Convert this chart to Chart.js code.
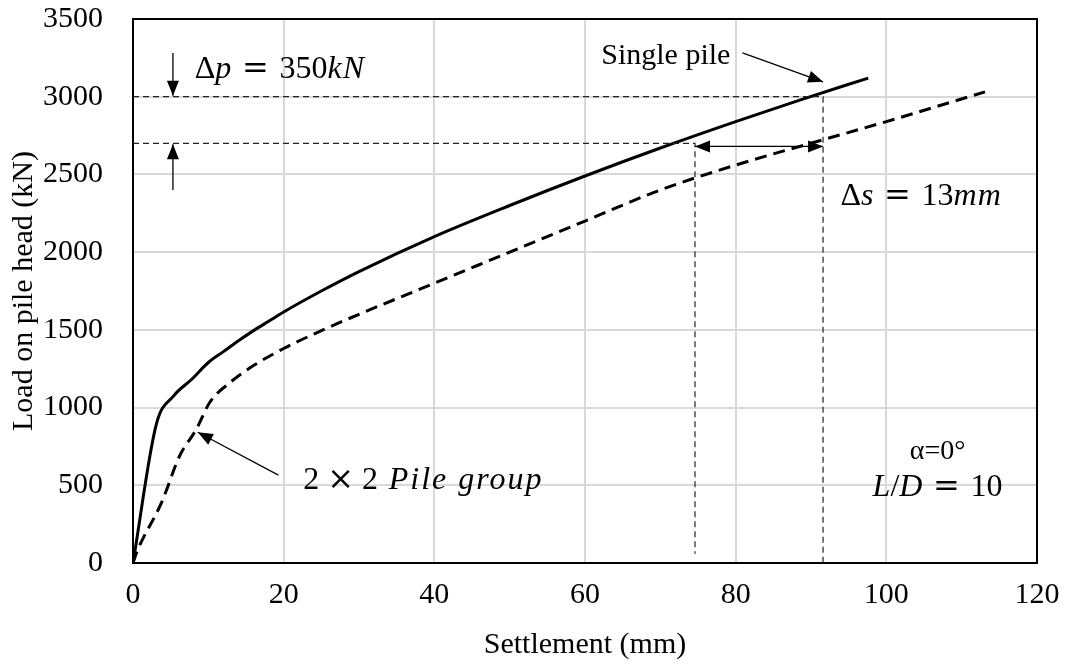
<!DOCTYPE html>
<html>
<head>
<meta charset="utf-8">
<title>Load-settlement</title>
<script src="https://cdn.jsdelivr.net/npm/chart.js@4/dist/chart.umd.min.js"></script>
<style>
    html, body { margin: 0; padding: 0; background: #fff; }
    #wrap { width: 1070px; height: 666px; }
</style>
</head>
<body>
<div id="wrap"><canvas id="loadChart" width="1070" height="666"></canvas></div>
<script>
// ===== DATA =====
const xTicks = [0, 20, 40, 60, 80, 100, 120];
const yTicks = [0, 500, 1000, 1500, 2000, 2500, 3000, 3500];

// single pile (solid)
const singleSettlement = [0, 3.1, 5.4, 7.8, 10, 12, 14, 16, 18, 20, 25, 30, 40, 50, 60, 70, 80, 88.6, 97.6];
const singleLoad = [0, 893, 1075, 1182, 1290, 1360, 1430, 1495, 1555, 1615, 1750, 1875, 2100, 2300, 2490, 2670, 2840, 2980, 3120];

// 2x2 pile group (dashed)
const groupSettlement = [0, 0.5, 3.8, 6.2, 8.4, 10.2, 12.9, 16, 20, 25, 30, 40, 50, 60, 70, 80, 91.6, 100, 113.1];
const groupLoad = [0, 70, 390, 690, 860, 1034, 1162, 1270, 1380, 1495, 1600, 1800, 2000, 2200, 2400, 2560, 2723, 2840, 3031];

// reference loads / settlements for the delta marks
const refLoads = [2700, 3000];
const refSettlements = [74.6, 91.6];

const SERIF = '"Liberation Serif", "Times New Roman", serif';
const WIDE = '"DejaVu Serif", serif';
const SP = '\u2004';

function toPoints(xs, ys) {
    return xs.map((x, i) => ({ x: x, y: ys[i] }));
}

// Guide lines: horizontal at each reference load, then down to the axis
function guideLine(load, settlement, bottom) {
    return {
        data: [{ x: 0, y: load }, { x: settlement, y: load }, { x: settlement, y: bottom }],
        borderColor: '#222',
        borderWidth: 1.2,
        borderDash: [6, 4],
        pointRadius: 0,
        showLine: true,
        tension: 0
    };
}

// ===== ANNOTATION PLUGIN =====
function arrowHead(ctx, x1, y1, x2, y2, len, half) {
    const a = Math.atan2(y2 - y1, x2 - x1);
    ctx.beginPath();
    ctx.moveTo(x2, y2);
    ctx.lineTo(x2 - len * Math.cos(a) + half * Math.sin(a), y2 - len * Math.sin(a) - half * Math.cos(a));
    ctx.lineTo(x2 - len * Math.cos(a) - half * Math.sin(a), y2 - len * Math.sin(a) + half * Math.cos(a));
    ctx.closePath();
    ctx.fill();
}

function arrow(ctx, x1, y1, x2, y2, both) {
    ctx.beginPath();
    ctx.moveTo(x1, y1);
    ctx.lineTo(x2, y2);
    ctx.stroke();
    arrowHead(ctx, x1, y1, x2, y2, 15, 6);
    if (both) arrowHead(ctx, x2, y2, x1, y1, 15, 6);
}

// a run of upright / italic pieces; x is the left edge (or centre)
function setPartFont(ctx, p, size) {
    ctx.font = (p.i ? 'italic ' : '') + size + 'px ' + (p.f || SERIF);
    ctx.letterSpacing = (p.ls || 0) + 'px';
}

function mathText(ctx, parts, x, y, size, align) {
    let total = 0;
    parts.forEach(p => {
        setPartFont(ctx, p, size);
        total += ctx.measureText(p.t).width;
    });
    let cx = align === 'center' ? x - total / 2 : x;
    ctx.textAlign = 'left';
    ctx.textBaseline = 'middle';
    parts.forEach(p => {
        setPartFont(ctx, p, size);
        ctx.fillText(p.t, cx, y);
        cx += ctx.measureText(p.t).width;
    });
    ctx.letterSpacing = '0px';
}

const notesPlugin = {
    id: 'notes',
    beforeDatasetsDraw(chart) {
        const ctx = chart.ctx;
        const a = chart.chartArea;
        ctx.save();
        ctx.strokeStyle = '#000';
        ctx.lineWidth = 2;
        ctx.strokeRect(a.left, a.top, a.right - a.left, a.bottom - a.top);
        ctx.restore();
    },
    afterDatasetsDraw(chart) {
        const ctx = chart.ctx;
        const xs = chart.scales.x;
        const ys = chart.scales.y;
        const px = v => xs.getPixelForValue(v);
        const py = v => ys.getPixelForValue(v);
        const eq = [{ t: SP }, { t: '=', f: WIDE }, { t: SP }];

        ctx.save();
        ctx.strokeStyle = '#000';
        ctx.fillStyle = '#000';
        ctx.lineWidth = 1.3;

        // delta p arrows
        arrow(ctx, px(5.3), py(3282), px(5.3), py(refLoads[1]) - 1);
        arrow(ctx, px(5.3), py(2400), px(5.3), py(refLoads[0]) + 1);

        // delta s double arrow
        arrow(ctx, px(refSettlements[0]), py(2680), px(refSettlements[1]), py(2680), true);

        // leaders to the curves
        arrow(ctx, px(80.9), py(3282), px(91.6), py(3096));
        arrow(ctx, px(19.3), py(565), px(8.6), py(841));

        // labels
        ctx.font = '30px ' + SERIF;
        ctx.textAlign = 'right';
        ctx.textBaseline = 'middle';
        ctx.fillText('Single pile', px(79.3), py(3263));

        mathText(ctx, [{ t: 'Δ' }, { t: 'p', i: true }, ...eq, { t: '350' }, { t: 'kN', i: true, ls: 1 }], px(8.2), py(3173), 32);
        mathText(ctx, [{ t: 'Δ' }, { t: 's', i: true }, ...eq, { t: '13' }, { t: 'mm', i: true, ls: 1 }], px(93.9), py(2357), 32);
        mathText(ctx, [{ t: '2 ' }, { t: '×', f: WIDE }, { t: ' 2' + SP }, { t: 'Pile group', i: true, ls: 2 }], px(22.6), py(527), 32);
        mathText(ctx, [{ t: 'α=0°' }], px(106.8), py(719), 28, 'center');
        mathText(ctx, [{ t: 'L', i: true }, { t: '/' }, { t: 'D', i: true }, ...eq, { t: '10' }], px(106.8), py(482), 32, 'center');
        ctx.restore();
    }
};

// ===== CHART =====
function createLoadChart() {
    const ctx = document.getElementById('loadChart');
    if (!ctx) return;

    new Chart(ctx, {
        type: 'scatter',
        data: {
            datasets: [
                guideLine(refLoads[1], refSettlements[1], 0),
                guideLine(refLoads[0], refSettlements[0], 60),
                {
                    label: 'Single pile',
                    data: toPoints(singleSettlement, singleLoad),
                    borderColor: '#000',
                    borderWidth: 3,
                    pointRadius: 0,
                    showLine: true,
                    cubicInterpolationMode: 'monotone'
                },
                {
                    label: '2 × 2 Pile group',
                    data: toPoints(groupSettlement, groupLoad),
                    borderColor: '#000',
                    borderWidth: 3,
                    borderDash: [12, 7],
                    pointRadius: 0,
                    showLine: true,
                    cubicInterpolationMode: 'monotone'
                }
            ]
        },
        options: {
            responsive: false,
            animation: false,
            layout: { padding: { top: 19, right: 33, left: 0, bottom: 0 } },
            plugins: {
                legend: { display: false },
                tooltip: { enabled: false }
            },
            scales: {
                x: {
                    type: 'linear',
                    min: 0,
                    max: 120,
                    afterBuildTicks: s => { s.ticks = xTicks.map(v => ({ value: v })); },
                    afterFit: s => { s.height = 103; s.paddingLeft = 0; s.paddingRight = 0; },
                    grid: { color: '#d9d9d9', lineWidth: 2, drawTicks: false },
                    border: { display: false },
                    ticks: {
                        color: '#000',
                        font: { family: SERIF, size: 30 },
                        padding: 14,
                        maxRotation: 0,
                        callback: v => String(v)
                    },
                    title: {
                        display: true,
                        text: 'Settlement (mm)',
                        color: '#000',
                        font: { family: SERIF, size: 30 },
                        padding: { top: 0, bottom: 3 }
                    }
                },
                y: {
                    type: 'linear',
                    min: 0,
                    max: 3500,
                    afterBuildTicks: s => { s.ticks = yTicks.map(v => ({ value: v })); },
                    afterFit: s => { s.width = 133; s.paddingTop = 0; s.paddingBottom = 0; },
                    grid: { color: '#d9d9d9', lineWidth: 2, drawTicks: false },
                    border: { display: false },
                    ticks: {
                        color: '#000',
                        font: { family: SERIF, size: 30 },
                        padding: 30,
                        callback: v => String(v)
                    },
                    title: {
                        display: true,
                        text: 'Load on pile head (kN)',
                        color: '#000',
                        font: { family: SERIF, size: 30 },
                        padding: { top: 6, bottom: 0 }
                    }
                }
            }
        },
        plugins: [notesPlugin]
    });
}

document.addEventListener('DOMContentLoaded', function() {
    createLoadChart();
});
</script>
</body>
</html>
